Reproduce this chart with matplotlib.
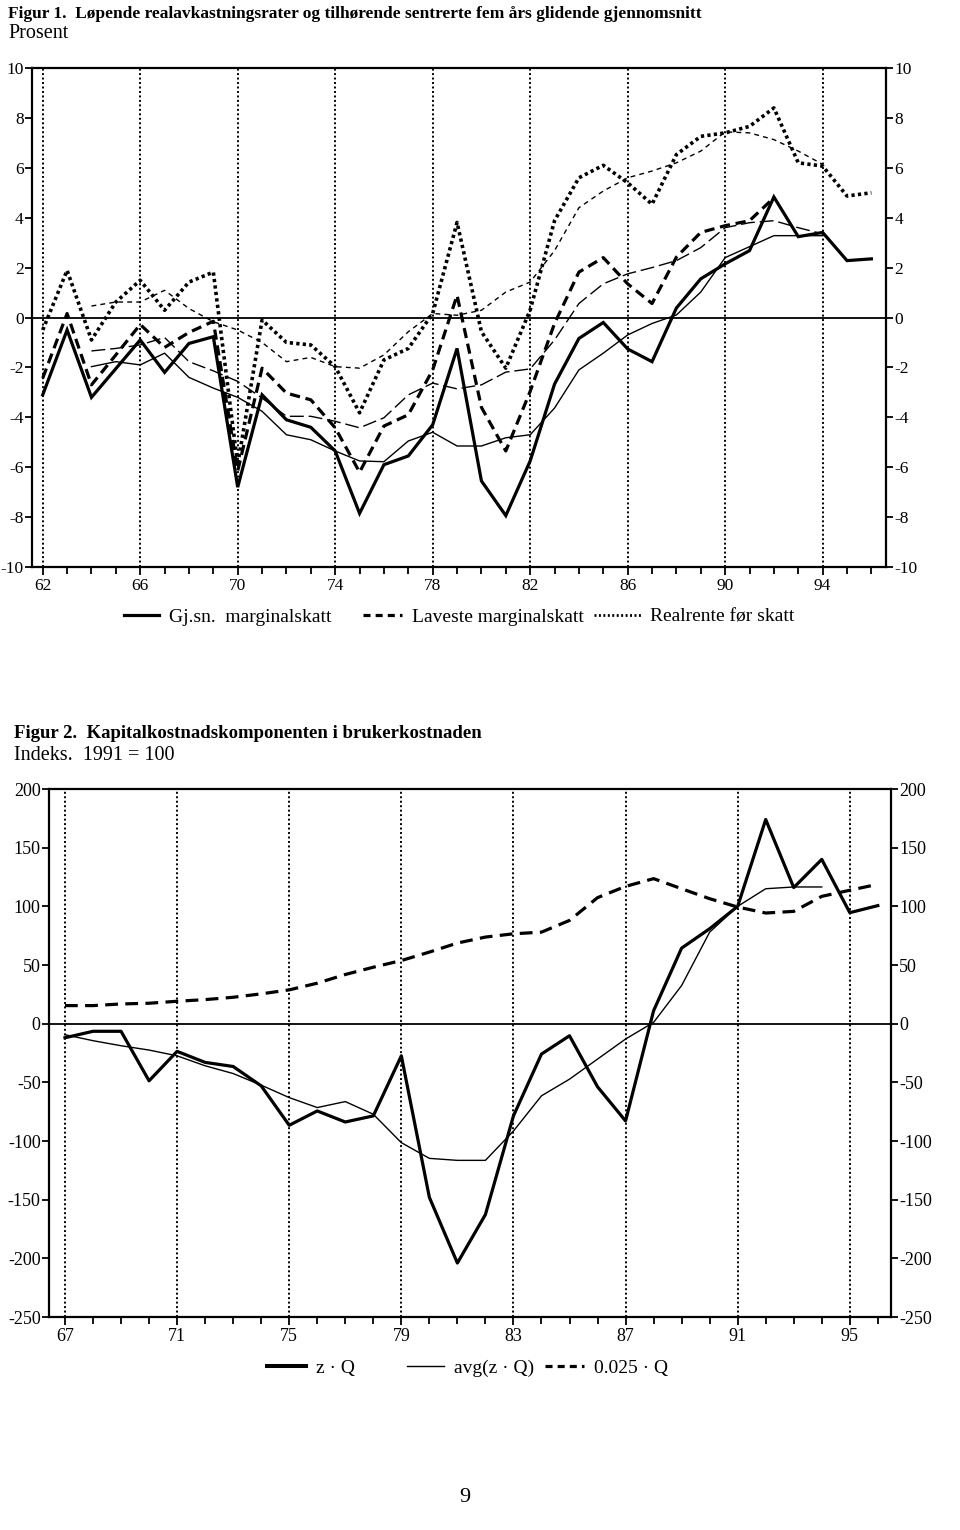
import matplotlib
matplotlib.use('Agg')
import matplotlib.pyplot as plt
from matplotlib.lines import Line2D

plt.rcParams['font.family'] = ['Liberation Serif', 'DejaVu Serif']
plt.rcParams['axes.unicode_minus'] = False

# --- Figur 1: realavkastningsrater (prosent) ---
years1 = list(range(62, 97))
years1_avg = list(range(64, 95))
years1_lav = list(range(62, 93))

gjsn = [-3.1, -0.5, -3.2, -2.05, -0.9, -2.2, -1.04, -0.77, -6.8, -3.1,
        -4.1, -4.4, -5.35, -7.85, -5.9, -5.55, -4.3, -1.24, -6.55, -7.94,
        -5.75, -2.67, -0.84, -0.2, -1.26, -1.77, 0.38, 1.55, 2.15, 2.68,
        4.83, 3.24, 3.41, 2.28, 2.35]
gjsn_avg = [-1.97, -1.77, -1.9, -1.43, -2.4, -2.83, -3.2, -3.76, -4.7, -4.9,
            -5.35, -5.75, -5.78, -4.95, -4.6, -5.15, -5.15, -4.82, -4.7, -3.63,
            -2.1, -1.43, -0.7, -0.24, 0.1, 1.02, 2.4, 2.84, 3.28, 3.28, 3.28]
laveste = [-2.43, 0.16, -2.7, -1.5, -0.28, -1.2, -0.6, -0.15, -6.15, -2.03,
           -3.03, -3.3, -4.42, -6.2, -4.35, -3.9, -2.1, 0.89, -3.6, -5.35,
           -2.96, -0.24, 1.82, 2.4, 1.35, 0.56, 2.42, 3.41, 3.68, 3.88, 4.8]
laveste_avg = [-1.34, -1.24, -1.1, -0.8, -1.77, -2.14, -2.56, -3.23, -3.96, -3.96,
               -4.16, -4.42, -4.02, -3.1, -2.63, -2.86, -2.7, -2.19, -2.06, -0.9,
               0.56, 1.35, 1.75, 2.0, 2.28, 2.8, 3.6, 3.8, 3.88, 3.6, 3.35]
realrente = [-0.5, 1.89, -0.9, 0.62, 1.49, 0.29, 1.42, 1.82, -5.9, -0.1,
             -1.0, -1.1, -1.97, -3.82, -1.7, -1.24, 0.16, 3.81, -0.57, -2.03,
             0.3, 3.88, 5.6, 6.1, 5.4, 4.54, 6.53, 7.26, 7.4, 7.66,
             8.4, 6.2, 6.07, 4.87, 5.0]
realrente_avg = [0.46, 0.62, 0.62, 1.09, 0.36, -0.17, -0.5, -1.0, -1.77, -1.6,
                 -1.97, -2.03, -1.5, -0.57, 0.16, 0.09, 0.29, 1.02, 1.42, 2.68,
                 4.4, 5.07, 5.6, 5.87, 6.2, 6.67, 7.44, 7.4, 7.13, 6.67, 6.14]

# --- Figur 2: kapitalkostnadskomponenten (indeks 1991 = 100) ---
years2 = list(range(67, 97))
years2_avg = list(range(67, 95))
zq = [-12, -6.5, -6.5, -48.7, -23.6, -33, -36.5, -53, -86.6, -74.4,
      -83.8, -78.6, -27.4, -148, -204, -162.7, -78.6, -25.9, -10.3, -53.8,
      -82.9, 11, 64.4, 80.9, 100, 174, 116, 140, 94.6, 100.6]
zq_avg = [-9.4, -14.5, -18.8, -22.5, -27.4, -35.9, -42.5, -52.4, -63, -71.5,
          -66.4, -77.2, -101.4, -114.8, -116.5, -116.5, -91.5, -61.5, -47.3, -30.2,
          -13.1, 1.1, 32.5, 78, 100, 115, 116.5, 116.5]
q025 = [15.4, 15.4, 16.8, 17.4, 19.1, 20.5, 22.5, 25.4, 28.8, 34.5,
        41.9, 48.1, 53.8, 61, 68.7, 73.8, 76.6, 78, 88, 107.4,
        117, 123.6, 115, 106.5, 99.4, 94.3, 95.7, 108.5, 113.7, 118.8]

W, H = 960, 1530
fig = plt.figure(figsize=(W / 100, H / 100), dpi=100)

THICK = 2.3
THIN = 1.0
grid_style = dict(color='black', lw=1.4, ls=(0, (1.0, 1.3)), zorder=1)


def px_axes(left, top, right, bottom):
    return fig.add_axes([left / W, 1 - bottom / H, (right - left) / W, (bottom - top) / H])


def style_axes(ax, size):
    for s in ax.spines.values():
        s.set_linewidth(1.6)
    ax.tick_params(axis='y', which='both', left=True, right=True, labelleft=True,
                   labelright=True, direction='out', length=5, width=1.3, pad=1,
                   labelsize=size)
    ax.tick_params(axis='x', which='major', direction='out', length=6, width=1.3,
                   labelsize=size, pad=2)
    ax.tick_params(axis='x', which='minor', direction='out', length=5, width=1.3)
    ax.axhline(0, color='black', lw=1.3, zorder=2)


def legend_entry(x, y, handle, label, hlen, size=14):
    # one legend entry, left edge of the handle at pixel x
    fig.legend([handle], [label], loc='center left', bbox_to_anchor=(x / W, 1 - y / H),
               frameon=False, fontsize=size, handlelength=hlen, handletextpad=0.5,
               borderpad=0, borderaxespad=0)


# ---------------- Figur 1 ----------------
fig.text(8 / W, 1 - 14 / H, 'Figur 1.  Løpende realavkastningsrater og tilhørende sentrerte fem års glidende gjennomsnitt',
         fontsize=12.5, weight='bold', va='center', ha='left')
fig.text(8 / W, 1 - 34 / H, 'Prosent', fontsize=14.5, va='center', ha='left')

ax1 = px_axes(32, 68, 886, 567)
for yr in range(62, 95, 4):
    ax1.axvline(yr, **grid_style)
ax1.plot(years1, gjsn, color='black', lw=THICK, solid_joinstyle='miter', zorder=4)
ax1.plot(years1_avg, gjsn_avg, color='black', lw=THIN, zorder=3)
ax1.plot(years1_lav, laveste, color='black', lw=THICK, ls=(0, (3.2, 1.8)), zorder=4)
ax1.plot(years1_avg, laveste_avg, color='black', lw=THIN, ls=(0, (10, 3.5)), zorder=3)
ax1.plot(years1, realrente, color='black', lw=2.6, ls=(0, (0.9, 0.9)), zorder=4)
ax1.plot(years1_avg, realrente_avg, color='black', lw=THIN, ls=(0, (3.5, 3)), zorder=3)
ax1.set_xlim(61.56, 96.6)
ax1.set_ylim(-10, 10)
ax1.set_yticks(range(-10, 11, 2))
ax1.set_xticks(range(62, 95, 4))
ax1.set_xticks(range(62, 97), minor=True)
style_axes(ax1, 12.5)

legend_entry(124, 617, Line2D([], [], color='black', lw=THICK), 'Gj.sn.  marginalskatt', 1.8)
legend_entry(363, 617, Line2D([], [], color='black', lw=THICK, ls=(0, (2.2, 1.6))),
             'Laveste marginalskatt', 2.0)
legend_entry(594, 617, Line2D([], [], color='black', lw=2.0, ls=(0, (0.7, 0.9))),
             'Realrente før skatt', 2.4)

# ---------------- Figur 2 ----------------
fig.text(14 / W, 1 - 733 / H, 'Figur 2.  Kapitalkostnadskomponenten i brukerkostnaden',
         fontsize=13.5, weight='bold', va='center', ha='left')
fig.text(14 / W, 1 - 756 / H, 'Indeks.  1991 = 100', fontsize=14.5, va='center', ha='left')

ax2 = px_axes(49, 789, 891, 1317)
for yr in range(67, 96, 4):
    ax2.axvline(yr, **grid_style)
ax2.plot(years2, zq, color='black', lw=THICK, zorder=4)
ax2.plot(years2_avg, zq_avg, color='black', lw=THIN, zorder=3)
ax2.plot(years2, q025, color='black', lw=THICK, ls=(0, (4, 2.3)), zorder=4)
ax2.set_xlim(66.43, 96.47)
ax2.set_ylim(-250, 200)
ax2.set_yticks(range(-250, 201, 50))
ax2.set_xticks(range(67, 96, 4))
ax2.set_xticks(range(67, 97), minor=True)
style_axes(ax2, 13)

legend_entry(267, 1368, Line2D([], [], color='black', lw=THICK + 0.6), 'z · Q', 2.0)
legend_entry(407, 1368, Line2D([], [], color='black', lw=THIN), 'avg(z · Q)', 1.9)
legend_entry(545, 1368, Line2D([], [], color='black', lw=THICK, ls=(0, (2.2, 1.6))),
             '0.025 · Q', 2.0)

fig.text(465 / W, 1 - 1497 / H, '9', fontsize=16, ha='center', va='center')

fig.savefig('out.png', dpi=100)
